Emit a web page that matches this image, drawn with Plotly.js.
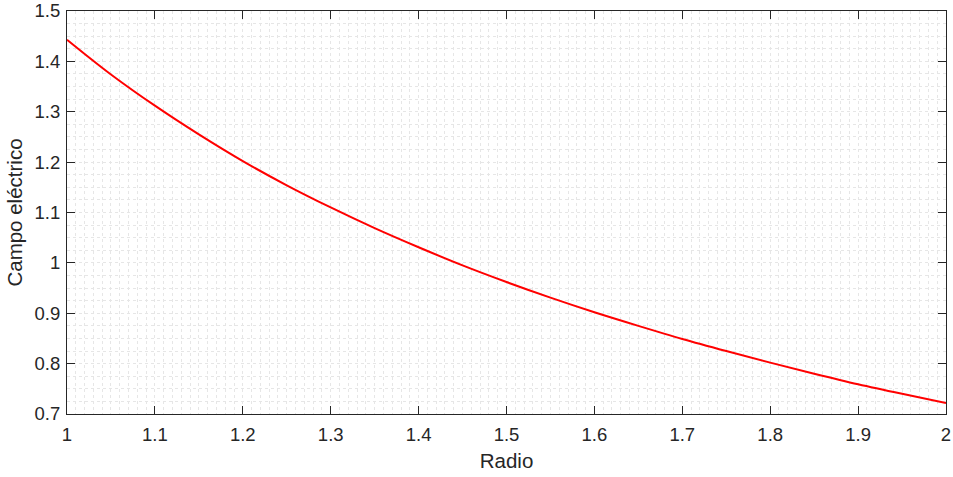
<!DOCTYPE html>
<html>
<head>
<meta charset="utf-8">
<script src="https://cdn.plot.ly/plotly-3.0.1.min.js"></script>
<style>html,body{margin:0;padding:0;background:#fff;}#chart{width:953px;height:477px;}</style>
</head>
<body>
<div id="chart"></div>
<script>
const radio = [1.00, 1.05, 1.10, 1.15, 1.20, 1.25, 1.30, 1.35, 1.40, 1.45, 1.50, 1.55, 1.60, 1.65, 1.70, 1.75, 1.80, 1.85, 1.90, 1.95, 2.00];
const campo = [1.443, 1.374, 1.312, 1.255, 1.202, 1.154, 1.110, 1.069, 1.031, 0.995, 0.962, 0.931, 0.902, 0.875, 0.849, 0.825, 0.802, 0.780, 0.759, 0.740, 0.722];
const xTickVals = [1, 1.1, 1.2, 1.3, 1.4, 1.5, 1.6, 1.7, 1.8, 1.9, 2];
const xTickText = ["1", "1.1", "1.2", "1.3", "1.4", "1.5", "1.6", "1.7", "1.8", "1.9", "2"];
const yTickVals = [0.7, 0.8, 0.9, 1, 1.1, 1.2, 1.3, 1.4, 1.5];
const yTickText = ["0.7", "0.8", "0.9", "1", "1.1", "1.2", "1.3", "1.4", "1.5"];
const xTitle = "Radio";
const yTitle = "Campo eléctrico";

const gridCol = "#e6e6e6";
const axCol = "#262626";
const fam = "Liberation Sans, Arial, sans-serif";
const tickFont = {family: fam, size: 18.5, color: "#262626"};
const titleFont = {family: fam, size: 20.5, color: "#262626"};

Plotly.newPlot("chart", [{
  x: radio, y: campo, type: "scatter", mode: "lines",
  line: {color: "#ff0000", width: 2, shape: "spline"},
  hoverinfo: "skip"
}], {
  width: 953, height: 477,
  margin: {l: 67, r: 7, t: 11, b: 63},
  paper_bgcolor: "#ffffff", plot_bgcolor: "#ffffff",
  showlegend: false,
  font: tickFont,
  xaxis: {
    range: [1, 2], tickmode: "array", tickvals: xTickVals, ticktext: xTickText,
    showline: true, linecolor: axCol, linewidth: 1, mirror: "ticks",
    ticks: "inside", ticklen: 8, tickcolor: axCol, tickwidth: 1,
    ticklabelstandoff: 4, ticklabeloverflow: "allow",
    showgrid: true, gridcolor: gridCol, griddash: "dot", gridwidth: 1,
    zeroline: false,
    minor: {dtick: 0.01, tick0: 1, showgrid: true, gridcolor: gridCol, griddash: "dot", gridwidth: 1},
    title: {text: xTitle, font: titleFont, standoff: 9},
    tickfont: tickFont
  },
  yaxis: {
    range: [0.7, 1.5], tickmode: "array", tickvals: yTickVals, ticktext: yTickText,
    showline: true, linecolor: axCol, linewidth: 1, mirror: "ticks",
    ticks: "inside", ticklen: 8, tickcolor: axCol, tickwidth: 1,
    ticklabelstandoff: 2, ticklabeloverflow: "allow",
    showgrid: true, gridcolor: gridCol, griddash: "dot", gridwidth: 1,
    zeroline: false,
    minor: {dtick: 0.025, tick0: 0.7, showgrid: true, gridcolor: gridCol, griddash: "dot", gridwidth: 1},
    title: {text: yTitle, font: titleFont, standoff: 6},
    tickfont: tickFont
  }
}, {staticPlot: true});
</script>
</body>
</html>
